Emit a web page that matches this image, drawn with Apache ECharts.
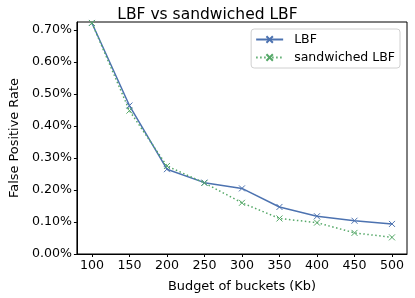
<!DOCTYPE html>
<html><head><meta charset="utf-8">
<script src="https://cdn.jsdelivr.net/npm/echarts@6/dist/echarts.min.js"></script>
<style>html,body{margin:0;padding:0;background:#fff}#c{width:415px;height:298px}</style>
</head><body><div id="c"></div>
<script>
const budgets = [100, 150, 200, 250, 300, 350, 400, 450, 500];
const lbf = [0.722, 0.464, 0.265, 0.223, 0.205, 0.147, 0.118, 0.104, 0.094];
const sandwichedLbf = [0.722, 0.448, 0.275, 0.222, 0.160, 0.111, 0.098, 0.066, 0.052];
const xTicks = [100, 150, 200, 250, 300, 350, 400, 450, 500];
const yTicks = [0, 0.1, 0.2, 0.3, 0.4, 0.5, 0.6, 0.7];

const FONT = 'DejaVu Sans';
const xPath = 'path://M0,0L10,10M10,0L0,10';
const chart = echarts.init(document.getElementById('c'), null, {renderer: 'canvas'});
chart.setOption({
  animation: false,
  textStyle: {fontFamily: FONT},
  title: {text: 'LBF vs sandwiched LBF', left: 'center', top: 2, textStyle: {fontFamily: FONT, fontSize: 15.5, fontWeight: 'normal', color: '#000'}},
  grid: {left: 69, right: 8, top: 22, bottom: 41, show: true, borderColor: '#000', borderWidth: 1, containLabel: false},
  legend: {
    right: 15, top: 29, orient: 'vertical', itemWidth: 27, itemHeight: 8, itemGap: 5,
    padding: [4, 5, 4, 4], borderColor: '#d0d0d0', borderWidth: 1, borderRadius: 3, backgroundColor: 'rgba(255,255,255,0.8)',
    textStyle: {fontFamily: FONT, fontSize: 12.5, color: '#000', padding: [0, 0, 0, 6]},
    data: ['LBF', 'sandwiched LBF']
  },
  xAxis: {
    type: 'value', min: 80, max: 520,
    name: 'Budget of buckets (Kb)', nameLocation: 'middle', nameGap: 26,
    nameTextStyle: {fontFamily: FONT, fontSize: 12.9, color: '#000'},
    axisLine: {lineStyle: {color: '#000', width: 1}},
    axisTick: {show: true, length: 3, customValues: xTicks, lineStyle: {color: '#000'}},
    axisLabel: {customValues: xTicks, fontFamily: FONT, fontSize: 12.6, color: '#000', margin: 5},
    splitLine: {show: false}
  },
  yAxis: {
    type: 'value', min: 0, max: 0.725,
    name: 'False Positive Rate', nameLocation: 'middle', nameGap: 54,
    nameTextStyle: {fontFamily: FONT, fontSize: 12.9, color: '#000'},
    axisLine: {show: true, lineStyle: {color: '#000', width: 1}},
    axisTick: {show: true, length: 3, customValues: yTicks, lineStyle: {color: '#000'}},
    axisLabel: {customValues: yTicks, fontFamily: FONT, fontSize: 12.6, color: '#000', margin: 5,
      formatter: v => v.toFixed(2) + '%'},
    splitLine: {show: false}
  },
  series: [
    {name: 'LBF', type: 'line', data: budgets.map((b, i) => [b, lbf[i]]),
      symbol: xPath, symbolSize: 6,
      lineStyle: {color: '#4c72b0', width: 1.5},
      itemStyle: {color: '#4c72b0', borderColor: '#4c72b0', borderWidth: 1}},
    {name: 'sandwiched LBF', type: 'line', data: budgets.map((b, i) => [b, sandwichedLbf[i]]),
      symbol: xPath, symbolSize: 6,
      lineStyle: {color: '#55a868', width: 1.5, type: [1.5, 2.5]},
      itemStyle: {color: '#55a868', borderColor: '#55a868', borderWidth: 1}}
  ]
});
</script></body></html>
